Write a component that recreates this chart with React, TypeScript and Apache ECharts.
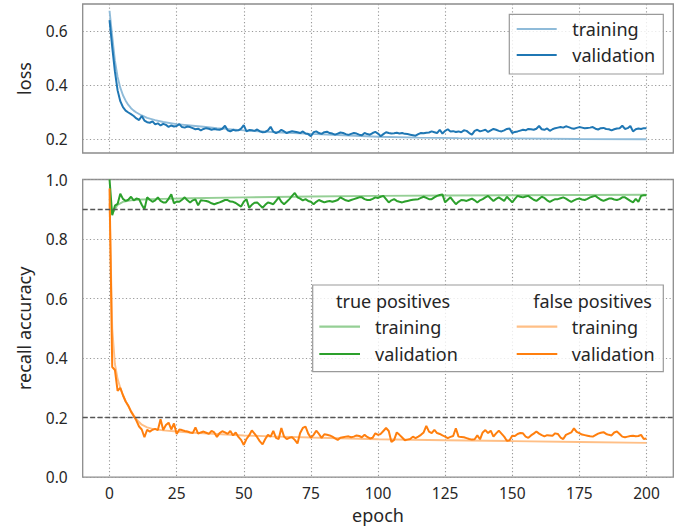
import React, { useEffect, useRef } from "react";
import * as echarts from "echarts";

// ---- data ----
const epochs: number[] = Array.from({ length: 201 }, (_, i) => i);
const xTicks = [0, 25, 50, 75, 100, 125, 150, 175, 200];
const lossTicks = [0.2, 0.4, 0.6];
const recallThresholds = [0.9, 0.2];

// loss: training (smooth) as [epoch, value]
const lossTrain: [number, number][] = [
  [0, 0.675], [1, 0.58], [2, 0.49], [3, 0.43], [4, 0.39], [5, 0.362], [6, 0.342],
  [7, 0.326], [8, 0.314], [9, 0.305], [10, 0.298], [12, 0.287], [14, 0.278],
  [17, 0.27], [20, 0.263], [25, 0.255], [30, 0.25], [35, 0.245], [40, 0.24],
  [50, 0.232], [62, 0.225], [75, 0.219], [87, 0.214], [100, 0.208], [115, 0.205],
  [130, 0.203], [150, 0.202], [175, 0.2], [200, 0.199],
];

// loss: validation, one value per epoch 0..200
const lossVal = [
  0.640, 0.540, 0.450, 0.380, 0.340, 0.318, 0.305, 0.298, 0.292, 0.285,
  0.276, 0.270, 0.285, 0.268, 0.262, 0.260, 0.265, 0.254, 0.258, 0.250,
  0.256, 0.252, 0.245, 0.250, 0.246, 0.248, 0.255, 0.244, 0.242, 0.246,
  0.244, 0.240, 0.236, 0.238, 0.232, 0.237, 0.240, 0.238, 0.234, 0.237,
  0.235, 0.234, 0.238, 0.249, 0.232, 0.228, 0.234, 0.231, 0.232, 0.238,
  0.251, 0.228, 0.233, 0.232, 0.230, 0.235, 0.228, 0.225, 0.226, 0.232,
  0.245, 0.227, 0.222, 0.226, 0.234, 0.228, 0.222, 0.226, 0.229, 0.227,
  0.225, 0.222, 0.228, 0.220, 0.218, 0.210, 0.225, 0.228, 0.222, 0.219,
  0.225, 0.227, 0.222, 0.220, 0.216, 0.220, 0.224, 0.222, 0.218, 0.215,
  0.219, 0.222, 0.220, 0.216, 0.214, 0.222, 0.218, 0.216, 0.222, 0.226,
  0.220, 0.210, 0.218, 0.225, 0.222, 0.220, 0.221, 0.223, 0.220, 0.222,
  0.219, 0.218, 0.216, 0.214, 0.212, 0.218, 0.222, 0.221, 0.223, 0.224,
  0.228, 0.225, 0.222, 0.234, 0.220, 0.230, 0.236, 0.228, 0.229, 0.226,
  0.228, 0.225, 0.232, 0.230, 0.222, 0.216, 0.230, 0.234, 0.228, 0.231,
  0.234, 0.226, 0.232, 0.237, 0.234, 0.230, 0.228, 0.232, 0.237, 0.239,
  0.222, 0.226, 0.228, 0.231, 0.234, 0.232, 0.237, 0.236, 0.234, 0.238,
  0.248, 0.236, 0.234, 0.239, 0.230, 0.236, 0.240, 0.242, 0.244, 0.242,
  0.247, 0.244, 0.240, 0.238, 0.241, 0.244, 0.242, 0.240, 0.241, 0.242,
  0.244, 0.238, 0.235, 0.240, 0.241, 0.237, 0.236, 0.232, 0.236, 0.239,
  0.240, 0.249, 0.237, 0.240, 0.248, 0.228, 0.236, 0.239, 0.237, 0.240,
  0.240,
];

// true positives recall: training (smooth)
const tpTrain: [number, number][] = [
  [0, 0.935], [1, 0.885], [2, 0.9], [3, 0.915], [5, 0.925], [8, 0.93], [12, 0.933],
  [20, 0.935], [30, 0.937], [50, 0.94], [75, 0.943], [100, 0.945], [125, 0.946],
  [150, 0.947], [175, 0.948], [200, 0.949],
];

// true positives recall: validation
const tpVal = [
  1.000, 0.880, 0.912, 0.918, 0.952, 0.935, 0.928, 0.932, 0.942, 0.930,
  0.936, 0.934, 0.915, 0.900, 0.940, 0.932, 0.925, 0.930, 0.940, 0.928,
  0.923, 0.923, 0.935, 0.950, 0.920, 0.926, 0.925, 0.932, 0.940, 0.930,
  0.923, 0.930, 0.933, 0.913, 0.930, 0.929, 0.928, 0.925, 0.920, 0.917,
  0.920, 0.923, 0.927, 0.931, 0.931, 0.926, 0.925, 0.921, 0.915, 0.909,
  0.925, 0.934, 0.905, 0.915, 0.922, 0.923, 0.914, 0.905, 0.915, 0.923,
  0.920, 0.917, 0.928, 0.940, 0.925, 0.917, 0.925, 0.934, 0.945, 0.955,
  0.940, 0.936, 0.930, 0.934, 0.928, 0.925, 0.917, 0.925, 0.931, 0.927,
  0.923, 0.926, 0.928, 0.925, 0.928, 0.931, 0.940, 0.935, 0.930, 0.928,
  0.931, 0.934, 0.937, 0.940, 0.940, 0.934, 0.931, 0.931, 0.935, 0.940,
  0.938, 0.942, 0.945, 0.934, 0.923, 0.930, 0.934, 0.928, 0.925, 0.923,
  0.926, 0.928, 0.930, 0.932, 0.933, 0.934, 0.938, 0.942, 0.938, 0.934,
  0.934, 0.940, 0.945, 0.948, 0.950, 0.923, 0.932, 0.940, 0.928, 0.917,
  0.925, 0.931, 0.930, 0.928, 0.932, 0.936, 0.930, 0.923, 0.930, 0.934,
  0.940, 0.945, 0.936, 0.928, 0.935, 0.940, 0.934, 0.928, 0.942, 0.933,
  0.923, 0.935, 0.945, 0.942, 0.940, 0.943, 0.945, 0.938, 0.932, 0.928,
  0.935, 0.942, 0.938, 0.930, 0.925, 0.930, 0.934, 0.934, 0.937, 0.940,
  0.936, 0.930, 0.925, 0.930, 0.934, 0.936, 0.933, 0.931, 0.935, 0.940,
  0.943, 0.945, 0.938, 0.932, 0.928, 0.932, 0.936, 0.936, 0.933, 0.931,
  0.934, 0.940, 0.940, 0.934, 0.928, 0.923, 0.935, 0.925, 0.945, 0.947,
  0.947,
];

// false positives recall: training (smooth)
const fpTrain: [number, number][] = [
  [0, 0.92], [1, 0.5], [2, 0.38], [3, 0.33], [4, 0.3], [5, 0.275], [6, 0.255],
  [7, 0.238], [8, 0.222], [9, 0.208], [10, 0.195], [11, 0.185], [12, 0.176],
  [14, 0.167], [16, 0.162], [20, 0.157], [25, 0.153], [30, 0.15], [40, 0.145],
  [50, 0.14], [60, 0.137], [75, 0.133], [100, 0.127], [125, 0.124],
  [150, 0.121], [175, 0.118], [200, 0.115],
];

// false positives recall: validation
const fpVal = [
  0.970, 0.370, 0.360, 0.290, 0.300, 0.275, 0.254, 0.240, 0.220, 0.205,
  0.190, 0.170, 0.160, 0.134, 0.159, 0.153, 0.159, 0.162, 0.158, 0.194,
  0.158, 0.175, 0.183, 0.160, 0.180, 0.145, 0.160, 0.158, 0.155, 0.153,
  0.150, 0.148, 0.167, 0.146, 0.150, 0.153, 0.149, 0.145, 0.155, 0.150,
  0.135, 0.148, 0.154, 0.150, 0.145, 0.155, 0.140, 0.150, 0.135, 0.125,
  0.108, 0.128, 0.140, 0.157, 0.146, 0.134, 0.120, 0.110, 0.128, 0.142,
  0.136, 0.155, 0.132, 0.128, 0.165, 0.136, 0.128, 0.132, 0.134, 0.125,
  0.113, 0.148, 0.165, 0.170, 0.146, 0.132, 0.142, 0.156, 0.145, 0.132,
  0.144, 0.142, 0.140, 0.136, 0.130, 0.125, 0.132, 0.134, 0.136, 0.137,
  0.134, 0.136, 0.140, 0.138, 0.134, 0.142, 0.135, 0.130, 0.132, 0.147,
  0.142, 0.145, 0.155, 0.165, 0.155, 0.118, 0.125, 0.150, 0.142, 0.133,
  0.124, 0.126, 0.128, 0.136, 0.131, 0.136, 0.142, 0.150, 0.172, 0.153,
  0.148, 0.159, 0.148, 0.145, 0.140, 0.136, 0.131, 0.135, 0.138, 0.164,
  0.136, 0.135, 0.134, 0.131, 0.128, 0.126, 0.127, 0.140, 0.127, 0.150,
  0.158, 0.148, 0.156, 0.136, 0.147, 0.156, 0.146, 0.136, 0.122, 0.124,
  0.139, 0.138, 0.145, 0.148, 0.147, 0.136, 0.132, 0.140, 0.146, 0.153,
  0.146, 0.141, 0.137, 0.141, 0.140, 0.139, 0.147, 0.145, 0.133, 0.128,
  0.142, 0.146, 0.150, 0.164, 0.152, 0.148, 0.143, 0.141, 0.139, 0.137,
  0.136, 0.141, 0.146, 0.149, 0.151, 0.145, 0.142, 0.140, 0.150, 0.153,
  0.145, 0.136, 0.134, 0.136, 0.138, 0.139, 0.137, 0.138, 0.142, 0.128,
  0.130,
];

// ---- styling ----
const FONT = "Noto Sans";
const TXT = "#262626";
const BLUE = "#1f77b4";
const BLUE_L = "#8fbbd9";
const GREEN = "#2ca02c";
const GREEN_L = "#95cf95";
const ORANGE = "#ff7f0e";
const ORANGE_L = "#ffbf86";
const FRAME = "#8c8c8c";

const GRID_LEFT = 82.7;
const GRID_RIGHT = 15.7;

export default function App() {
  const ref = useRef<HTMLDivElement>(null);

  useEffect(() => {
    if (!ref.current) return;
    const chart = echarts.init(ref.current, null, { renderer: "svg" });

    const splitLine = {
      show: true,
      lineStyle: { type: [1.2, 2.4] as any, color: "#999999", width: 1.1 },
    };
    const tickLabel = {
      color: TXT,
      fontFamily: FONT,
      fontSize: 15.5,
    };
    const nameStyle = { color: TXT, fontFamily: FONT, fontSize: 18 };

    const withEpoch = (vals: number[]) => epochs.map((e, i) => [e, vals[i]]);

    const lineSeries = (
      name: string,
      data: any[],
      color: string,
      gi: number,
      z: number,
      width: number,
      extra: any = {}
    ) => ({
      name,
      type: "line",
      xAxisIndex: gi,
      yAxisIndex: gi,
      data,
      showSymbol: false,
      symbol: "none",
      smooth: false,
      z,
      lineStyle: { color, width },
      itemStyle: { color },
      ...extra,
    });

    const legendText = (text: string, x: number, y: number) => ({
      type: "text",
      z: 101,
      style: {
        text,
        x,
        y,
        fill: TXT,
        fontFamily: FONT,
        fontSize: 18,
        verticalAlign: "middle",
        align: "left",
      },
    });
    const legendLine = (x1: number, x2: number, y: number, color: string) => ({
      type: "line",
      z: 101,
      shape: { x1, y1: y, x2, y2: y },
      style: { stroke: color, lineWidth: 2.2 },
    });

    chart.setOption({
      animation: false,
      backgroundColor: "#ffffff",
      grid: [
        {
          left: GRID_LEFT,
          right: GRID_RIGHT,
          top: 4,
          height: 149,
          show: true,
          borderColor: FRAME,
          borderWidth: 1.3,
          backgroundColor: "transparent",
        },
        {
          left: GRID_LEFT,
          right: GRID_RIGHT,
          top: 179.5,
          height: 297.8,
          show: true,
          borderColor: FRAME,
          borderWidth: 1.3,
          backgroundColor: "transparent",
        },
      ],
      xAxis: [
        {
          gridIndex: 0,
          type: "value",
          min: -10,
          max: 210,
          axisLine: { show: false },
          axisTick: { show: false, customValues: xTicks },
          axisLabel: { show: false, customValues: xTicks },
          splitLine,
        },
        {
          gridIndex: 1,
          type: "value",
          min: -10,
          max: 210,
          axisLine: { show: false },
          axisTick: { show: false, customValues: xTicks },
          axisLabel: { ...tickLabel, margin: 8, customValues: xTicks },
          splitLine,
          name: "epoch",
          nameLocation: "middle",
          nameGap: 28,
          nameTextStyle: nameStyle,
        },
      ],
      yAxis: [
        {
          gridIndex: 0,
          type: "value",
          min: 0.148,
          max: 0.7,
          axisLine: { show: false },
          axisTick: { show: false, customValues: lossTicks },
          axisLabel: {
            ...tickLabel,
            margin: 15,
            customValues: lossTicks,
            formatter: (v: number) => v.toFixed(1),
          },
          splitLine,
          name: "loss",
          nameLocation: "middle",
          nameGap: 50,
          nameTextStyle: nameStyle,
        },
        {
          gridIndex: 1,
          type: "value",
          min: 0,
          max: 1,
          interval: 0.2,
          axisLine: { show: false },
          axisTick: { show: false },
          axisLabel: {
            ...tickLabel,
            margin: 15,
            formatter: (v: number) => v.toFixed(1),
          },
          splitLine,
          name: "recall accuracy",
          nameLocation: "middle",
          nameGap: 50,
          nameTextStyle: nameStyle,
        },
      ],
      series: [
        lineSeries("loss training", lossTrain, BLUE_L, 0, 2, 1.9),
        lineSeries("loss validation", withEpoch(lossVal), BLUE, 0, 3, 2),
        lineSeries("tp training", tpTrain, GREEN_L, 1, 2, 1.9, {
          markLine: {
            silent: true,
            symbol: ["none", "none"],
            label: { show: false },
            lineStyle: { type: [5, 2.5], color: "#555555", width: 1.3 },
            data: recallThresholds.map((v) => ({ yAxis: v })),
          },
        }),
        lineSeries("tp validation", withEpoch(tpVal), GREEN, 1, 3, 2),
        lineSeries("fp training", fpTrain, ORANGE_L, 1, 2, 1.9),
        lineSeries("fp validation", withEpoch(fpVal), ORANGE, 1, 3, 2),
      ],
      graphic: [
        // top legend
        {
          type: "rect",
          z: 100,
          shape: { x: 509.3, y: 14.3, width: 154, height: 59.7 },
          style: { fill: "rgba(255,255,255,0.8)", stroke: "#9a9a9a", lineWidth: 1.2 },
        },
        legendLine(516.7, 556.7, 29, BLUE_L),
        legendLine(516.7, 556.7, 55, BLUE),
        legendText("training", 572.3, 29),
        legendText("validation", 572.3, 55),
        // bottom legend
        {
          type: "rect",
          z: 100,
          shape: { x: 312.7, y: 285, width: 350.6, height: 86.7 },
          style: { fill: "rgba(255,255,255,0.8)", stroke: "#9a9a9a", lineWidth: 1.2 },
        },
        legendText("true positives", 336, 300.7),
        legendText("false positives", 533.3, 300.7),
        legendLine(319.3, 360, 326.7, GREEN_L),
        legendLine(319.3, 360, 354, GREEN),
        legendText("training", 375, 326.7),
        legendText("validation", 375, 354),
        legendLine(516.7, 557.3, 326.7, ORANGE_L),
        legendLine(516.7, 557.3, 354, ORANGE),
        legendText("training", 571.7, 326.7),
        legendText("validation", 571.7, 354),
      ],
    });

    return () => chart.dispose();
  }, []);

  return (
    <div
      ref={ref}
      style={{ position: "absolute", left: 0, top: 0, width: 689, height: 529 }}
    />
  );
}
